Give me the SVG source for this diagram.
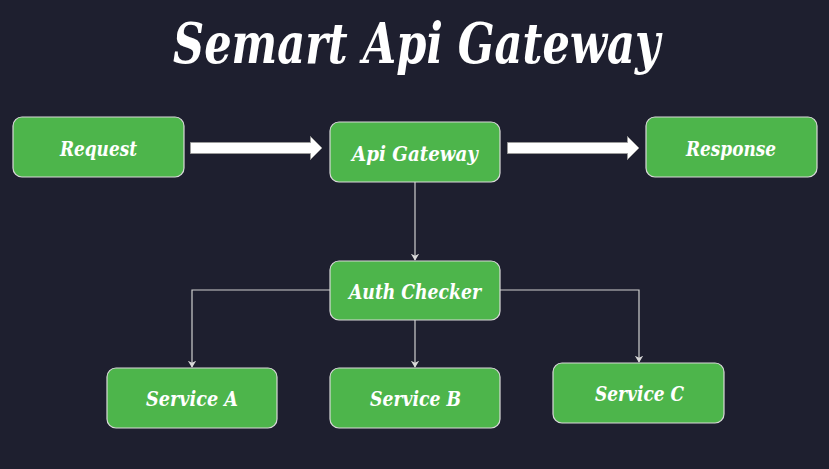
<svg xmlns="http://www.w3.org/2000/svg" width="829" height="469" viewBox="0 0 829 469">
  <defs>
    <style>
      .node rect { fill: #4db54b; stroke: #d9d9d9; stroke-width: 1.2; }
      .node text { fill: #ffffff; font-family: "DejaVu Serif", "Liberation Serif", serif; font-weight: bold; font-style: italic; font-size: 21px; text-anchor: middle; }
      .title { fill: #ffffff; font-family: "DejaVu Serif", "Liberation Serif", serif; font-weight: bold; font-style: italic; font-size: 56px; text-anchor: middle; }
      .conn { fill: none; stroke: #cfcfcf; stroke-width: 1.2; }
      .block { fill: #ffffff; stroke: #9a9a9a; stroke-width: 1; }
    </style>
    <marker id="arr" viewBox="0 0 10 12" refX="9" refY="6" markerWidth="7" markerHeight="9" markerUnits="userSpaceOnUse" orient="auto">
      <path d="M0,0 L10,6 L0,12 L3,6 Z" fill="#d9d9d9"/>
    </marker>
  </defs>
  <rect x="0" y="0" width="829" height="469" fill="#1e1f2f"/>
  <text class="title" x="416.5" y="63" textLength="487" lengthAdjust="spacingAndGlyphs">Semart Api Gateway</text>

  <g id="connectors">
    <path class="block" d="M190.5,142.5 H310.5 V136.5 L322,148 L310.5,159.5 V153.5 H190.5 Z"/>
    <path class="block" d="M507.5,142.5 H627.5 V136.5 L639,148 L627.5,159.5 V153.5 H507.5 Z"/>
    <path class="conn" d="M415,182 V260" marker-end="url(#arr)"/>
    <path class="conn" d="M330,290 H192 V367" marker-end="url(#arr)"/>
    <path class="conn" d="M415,320 V367" marker-end="url(#arr)"/>
    <path class="conn" d="M500,290 H639 V362" marker-end="url(#arr)"/>
  </g>

  <g id="request" class="node">
    <rect x="13" y="117" width="171" height="60" rx="9"/>
    <text x="98.5" y="156" textLength="77" lengthAdjust="spacingAndGlyphs">Request</text>
  </g>
  <g id="api-gateway" class="node">
    <rect x="330" y="122" width="170" height="60" rx="9"/>
    <text x="415" y="161" textLength="126" lengthAdjust="spacingAndGlyphs">Api Gateway</text>
  </g>
  <g id="response" class="node">
    <rect x="646" y="117" width="171" height="60" rx="9"/>
    <text x="731" y="156" textLength="90" lengthAdjust="spacingAndGlyphs">Response</text>
  </g>
  <g id="auth-checker" class="node">
    <rect x="330" y="261" width="170" height="59" rx="9"/>
    <text x="415" y="299" textLength="132" lengthAdjust="spacingAndGlyphs">Auth Checker</text>
  </g>
  <g id="service-a" class="node">
    <rect x="107" y="368" width="170" height="60" rx="9"/>
    <text x="192" y="406" textLength="92" lengthAdjust="spacingAndGlyphs">Service A</text>
  </g>
  <g id="service-b" class="node">
    <rect x="330" y="368" width="170" height="60" rx="9"/>
    <text x="415.5" y="406" textLength="91" lengthAdjust="spacingAndGlyphs">Service B</text>
  </g>
  <g id="service-c" class="node">
    <rect x="553" y="363" width="171" height="60" rx="9"/>
    <text x="639.5" y="401" textLength="89" lengthAdjust="spacingAndGlyphs">Service C</text>
  </g>
</svg>
